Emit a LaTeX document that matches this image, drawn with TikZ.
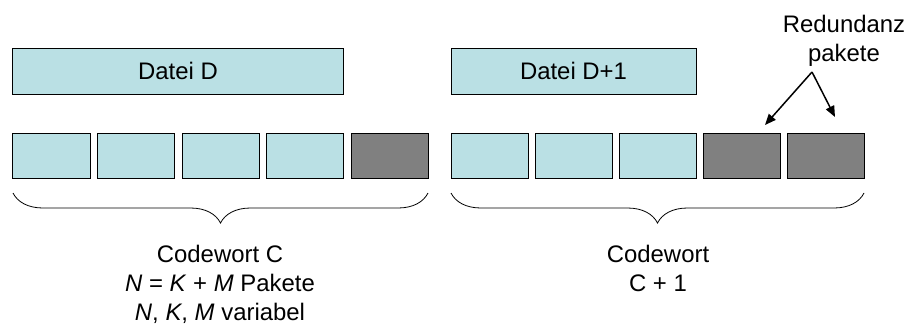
\documentclass[tikz,border=0pt]{standalone}
\usepackage{fontspec}
\setmainfont{Liberation Sans}
\usetikzlibrary{arrows.meta}
\usetikzlibrary{decorations.pathreplacing}
\definecolor{paketblau}{RGB}{186,224,228}
\definecolor{paketgrau}{RGB}{128,128,128}

\begin{document}
\begin{tikzpicture}[x=1bp,y=-1bp,
    txt/.style={font=\fontsize{24}{29}\selectfont},
    datei/.style={draw, line width=1bp, fill=paketblau, minimum width=#1, minimum height=46bp, inner sep=0pt, txt},
    paket/.style={draw, line width=1bp, fill=#1, minimum width=77bp, minimum height=45bp, inner sep=0pt},
    klammer/.style={decorate, decoration={brace, mirror, amplitude=30bp}, line width=0.8bp},
    pfeil/.style={-{Triangle[length=11bp,width=9bp]}, line width=1.5bp}]
      \useasboundingbox (0,0) rectangle (908,324);

      % dateien
      \node[datei=330bp] (dD) at (178,71) {Datei D};
      \node[datei=245bp] (dD1) at (573.5,71) {Datei D+1};

      % pakete codewort C
      \foreach \i/\f in {1/paketblau,2/paketblau,3/paketblau,4/paketblau,5/paketgrau}
      \node[paket=\f] (p\i) at ({51.5+84.5*(\i-1)},155.5) {};

      % pakete codewort C+1
      \foreach \i/\f in {1/paketblau,2/paketblau,3/paketblau,4/paketgrau,5/paketgrau}
      \node[paket=\f] (q\i) at ({489.5+84*(\i-1)},155.5) {};

      % klammern
      \draw[klammer] (13,193) -- (428,193) coordinate[midway] (kC);
      \draw[klammer] (451,193) -- (864,193) coordinate[midway] (kC1);

      % beschriftungen (anchor base = letzte zeile)
      \node[txt, align=center, anchor=base] (cwC) at (220,320)
        {Codewort C\\ \textit{N} = \textit{K} + \textit{M} Pakete\\ \textit{N}, \textit{K}, \textit{M} variabel};
      \node[txt, align=center, anchor=base] (cwC1) at (658,291) {Codewort\\ C + 1};
      \node[txt, align=center, anchor=base] (red) at (844,61) {Redundanz\\ pakete};

      % pfeile
      \coordinate (spitze) at (812,72);
      \coordinate (z1) at (765,125);
      \coordinate (z2) at (835,117);
      \draw[pfeil] (spitze) -- (z1);
      \draw[pfeil] (spitze) -- (z2);
    \end{tikzpicture}
\end{document}
